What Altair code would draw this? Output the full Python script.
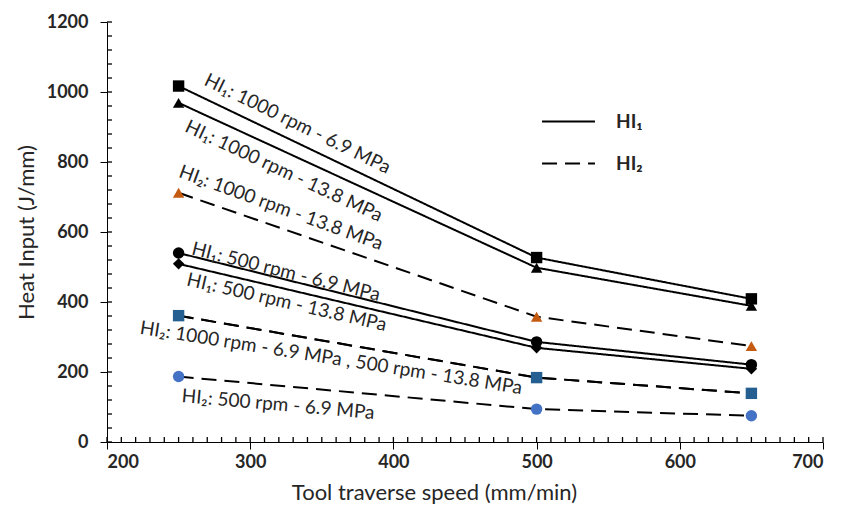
import altair as alt
import pandas as pd

# ---- data ----
speed = [250, 500, 650]

series_names = [
    "HI1 1000 rpm 6.9 MPa",
    "HI1 1000 rpm 13.8 MPa",
    "HI2 1000 rpm 13.8 MPa",
    "HI1 500 rpm 6.9 MPa",
    "HI1 500 rpm 13.8 MPa",
    "HI2 500 rpm 13.8 MPa",
    "HI2 1000 rpm 6.9 MPa",
    "HI2 500 rpm 6.9 MPa",
]
series_kind = ["HI₁", "HI₁", "HI₂", "HI₁", "HI₁", "HI₂", "HI₂", "HI₂"]
series_values = [
    [1017, 527, 409],
    [969, 498, 389],
    [712, 358, 274],
    [540, 286, 221],
    [509, 269, 209],
    [361, 184, 139],
    [361, 184, 139],
    [187, 94, 75],
]
series_shape = ["square", "triangle-up", "triangle-up", "circle", "diamond",
                "triangle-up", "square", "circle"]
series_color = ["#000000", "#000000", "#C55A11", "#000000", "#000000",
                "#70AD47", "#255E91", "#4472C4"]

ann_text = [
    "HI₁: 1000 rpm - 6.9 MPa",
    "HI₁: 1000 rpm - 13.8 MPa",
    "HI₂: 1000 rpm - 13.8 MPa",
    "HI₁: 500 rpm - 6.9 MPa",
    "HI₁: 500 rpm - 13.8 MPa",
    "HI₂: 1000 rpm - 6.9 MPa , 500 rpm - 13.8 MPa",
    "HI₂: 500 rpm - 6.9 MPa",
]
ann_x = [333, 323.5, 321.5, 325, 325.5, 356.5, 319.5]
ann_y = [909, 774, 669, 486, 399, 240, 107]
ann_angle = [26, 25, 20, 14, 13, 9, 5]

# axis tick values
x_major_ticks = list(range(200, 701, 100))
y_major_ticks = list(range(0, 1201, 200))
x_minor_ticks = list(range(200, 701, 10))
y_minor_ticks = list(range(0, 1201, 40))

# ---- build tables ----
rows = []
for i, name in enumerate(series_names):
    for x, y in zip(speed, series_values[i]):
        rows.append({"series": name, "kind": series_kind[i], "speed": x,
                     "hi": y, "order": i})
df = pd.DataFrame(rows)
ann = pd.DataFrame({"text": ann_text, "x": ann_x, "y": ann_y, "angle": ann_angle})
xt = pd.DataFrame({"v": x_minor_ticks})
yt = pd.DataFrame({"v": y_minor_ticks})

FONT = "Lato"
TXT = "#262626"
W, H = 716, 420

xscale = alt.Scale(domain=[200, 700], nice=False, zero=False)
yscale = alt.Scale(domain=[0, 1200], nice=False)

x_axis = alt.Axis(
    values=x_major_ticks, grid=False, format="d", tickSize=7,
    labelFontWeight="bold", labelFontSize=18, labelPadding=4,
    labelFont=FONT, labelColor=TXT, domainColor="#000000",
    tickColor="#000000", title="Tool traverse speed (mm/min)",
    titleFont=FONT, titleFontSize=22, titleFontWeight="normal",
    titleColor=TXT, titlePadding=11, titleX=327, titleAlign="center",
    titleAnchor="start", orient="bottom")
y_axis = alt.Axis(
    values=y_major_ticks, grid=False, format="d", tickSize=7,
    labelFontWeight="bold", labelFontSize=18, labelPadding=12,
    labelFont=FONT, labelColor=TXT, domainColor="#000000",
    tickColor="#000000", title="Heat Input (J/mm)",
    titleFont=FONT, titleFontSize=22, titleFontWeight="normal",
    titleColor=TXT, titlePadding=8, orient="left")

lines = alt.Chart(df).mark_line(strokeWidth=2, color="#000000").encode(
    x=alt.X("speed:Q", scale=xscale, axis=x_axis),
    y=alt.Y("hi:Q", scale=yscale, axis=y_axis),
    detail="series:N",
    strokeDash=alt.StrokeDash(
        "kind:N",
        scale=alt.Scale(domain=["HI₁", "HI₂"], range=[[1, 0], [15, 8]]),
        legend=alt.Legend(
            title=None, orient="none", legendX=434, legendY=72,
            symbolType="stroke", symbolSize=2800, symbolStrokeWidth=2,
            symbolStrokeColor="#000000",
            labelFont=FONT, labelFontSize=19, labelFontWeight="bold",
            labelColor=TXT, rowPadding=4, labelOffset=20,
        ),
    ),
)

# inward minor ticks drawn as short rules on the axis lines
x_minor = alt.Chart(xt).mark_rule(color="#000000", strokeWidth=1.3,
                                  y2Offset=-5).encode(
    x=alt.X("v:Q", scale=xscale, axis=None),
    y=alt.YDatum(0, scale=yscale, axis=None),
    y2=alt.Y2Datum(0),
)
y_minor = alt.Chart(yt).mark_rule(color="#000000", strokeWidth=1.3,
                                  x2Offset=5).encode(
    y=alt.Y("v:Q", scale=yscale, axis=None),
    x=alt.XDatum(200, scale=xscale, axis=None),
    x2=alt.X2Datum(200),
)

points = alt.Chart(df).mark_point(filled=True, size=130, opacity=1, strokeWidth=0).encode(
    x=alt.X("speed:Q", scale=xscale, axis=None),
    y=alt.Y("hi:Q", scale=yscale, axis=None),
    shape=alt.Shape("series:N", scale=alt.Scale(domain=series_names, range=series_shape),
                    legend=None),
    color=alt.Color("series:N", scale=alt.Scale(domain=series_names, range=series_color),
                    legend=None),
    order=alt.Order("order:Q"),
)

labels = alt.Chart(ann).mark_text(font=FONT, fontSize=19, color=TXT,
                                  align="center", baseline="middle").encode(
    x=alt.X("x:Q", scale=xscale, axis=None),
    y=alt.Y("y:Q", scale=yscale, axis=None),
    text="text:N",
    angle=alt.Angle("angle:Q", scale=None),
)

chart = alt.layer(lines, x_minor, y_minor, points, labels).resolve_axis(
    x="independent", y="independent"
).properties(
    width=W, height=H,
    autosize=alt.AutoSizeParams(type="none"),
    padding={"left": 107, "top": 22, "right": 39, "bottom": 70},
    background="white",
).configure_view(stroke=None)

chart.save("out.html", embed_options={"renderer": "svg", "actions": False})
